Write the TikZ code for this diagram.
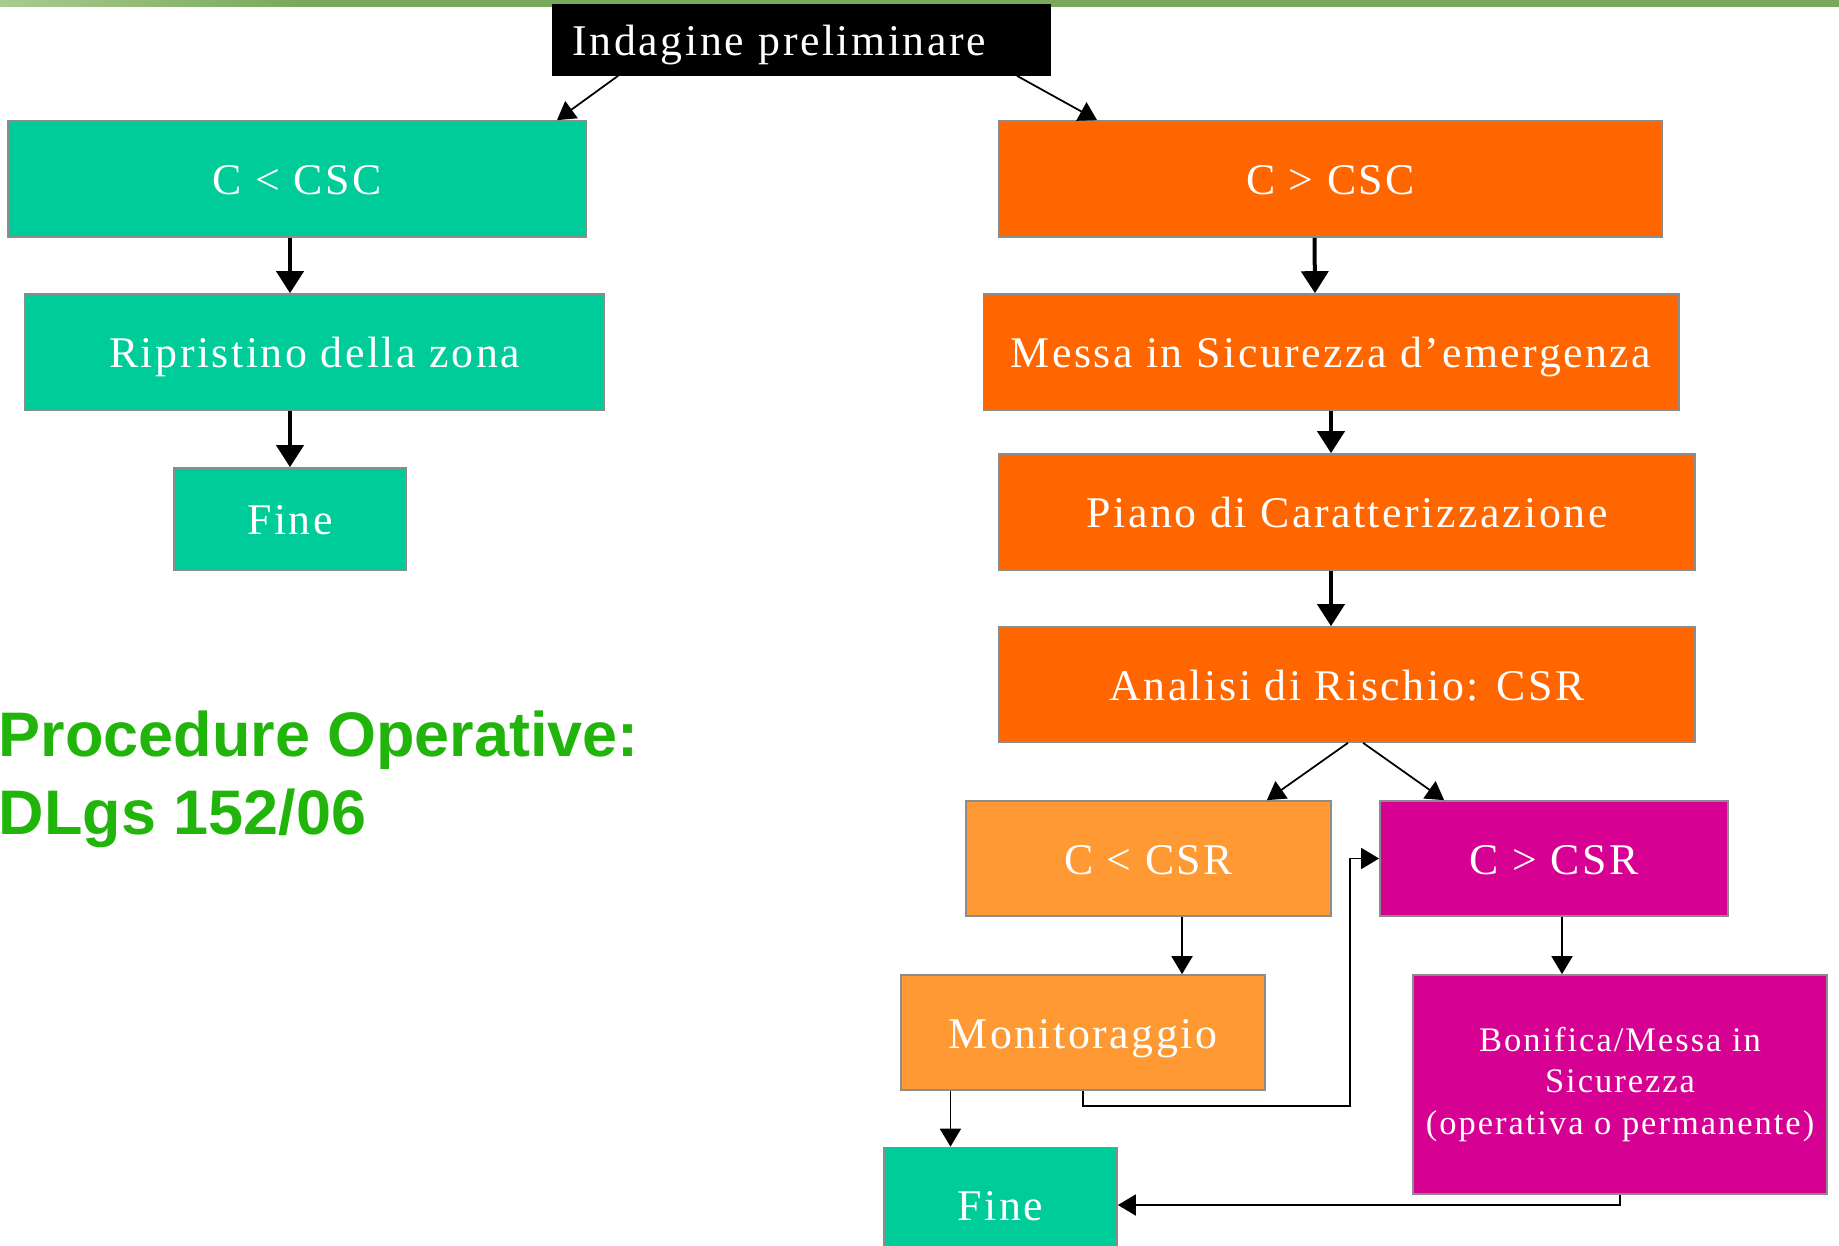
\documentclass[tikz,border=0pt]{standalone}
\usepackage{fontspec}
\setmainfont{Liberation Serif}
\newfontfamily\boxfont[LetterSpace=5.8]{Liberation Serif}
\newfontfamily\titlefont{Liberation Sans}
\usetikzlibrary{arrows.meta}
\definecolor{verdeacqua}{HTML}{00CC99}
\definecolor{arancio}{HTML}{FF6600}
\definecolor{arancioChiaro}{HTML}{FF9933}
\definecolor{fucsia}{HTML}{D60093}
\definecolor{verdetitolo}{HTML}{21B40A}
\definecolor{bordogrigio}{HTML}{8C8C8C}
\definecolor{fascia}{HTML}{79A95B}
\definecolor{fasciachiara}{HTML}{A9CB8F}
\begin{document}
\begin{tikzpicture}[x=0.01cm, y=-0.01cm,
    blocco/.style={draw=bordogrigio, line width=0.45pt, text=white, inner sep=0pt,
      font=\boxfont\fontsize{12.46}{14}\selectfont},
    riga/.style={blocco, text height=0.31cm, text depth=0pt},
    freccia/.style={-{Triangle[length=0.18cm,width=0.21cm]}, line width=0.5pt},
    freccione/.style={-{Triangle[length=0.22cm,width=0.27cm]}, line width=0.04cm}]
    \useasboundingbox (0,0) rectangle (1839,1246);
    \clip (0,0) rectangle (1839,1246);
    % fascia verde in alto
    \fill[fascia] (0,0) rectangle (1839,7);
    \shade[left color=fasciachiara, right color=fascia] (0,0) rectangle (300,7);
    % ramo di sinistra
    \node[riga, fill=black, draw=black, minimum width=4.97cm, minimum height=0.70cm,
      text width=4.57cm, align=left] (indagine) at (801.5,40) {Indagine preliminare};
    \node[riga, fill=verdeacqua, minimum width=5.78cm, minimum height=1.16cm] (cscmin) at (297,179) {C < CSC};
    \node[riga, fill=verdeacqua, minimum width=5.79cm, minimum height=1.16cm] (ripristino) at (314.5,352) {Ripristino della zona};
    \node[riga, fill=verdeacqua, minimum width=2.32cm, minimum height=1.02cm] (fine1) at (290,519) {Fine};
    % ramo di destra
    \node[riga, fill=arancio, minimum width=6.63cm, minimum height=1.16cm] (cscmag) at (1330.5,179) {C > CSC};
    \node[riga, fill=arancio, minimum width=6.95cm, minimum height=1.16cm] (messa) at (1331,352) {Messa in Sicurezza d’emergenza};
    \node[riga, fill=arancio, minimum width=6.96cm, minimum height=1.16cm] (piano) at (1347,512) {Piano di Caratterizzazione};
    \node[riga, fill=arancio, minimum width=6.96cm, minimum height=1.15cm] (analisi) at (1347,684.5) {Analisi di Rischio: CSR};
    \node[riga, fill=arancioChiaro, minimum width=3.65cm, minimum height=1.15cm] (csrmin) at (1148.5,858.5) {C < CSR};
    \node[riga, fill=fucsia, minimum width=3.48cm, minimum height=1.15cm] (csrmag) at (1554,858.5) {C > CSR};
    \node[riga, fill=arancioChiaro, minimum width=3.64cm, minimum height=1.15cm] (monitoraggio) at (1083,1032.5) {Monitoraggio};
    \node[blocco, fill=fucsia, minimum width=4.14cm, minimum height=2.19cm, align=center,
      font=\boxfont\fontsize{9.8}{11.7}\selectfont] (bonifica) at (1620,1084.5) {Bonifica/Messa in\\Sicurezza\\(operativa o permanente)};
    \node[riga, fill=verdeacqua, minimum width=2.33cm, minimum height=1.15cm] (fine2) at (1000.5,1205) {Fine};
    % titolo
    \node[anchor=base west, inner sep=0pt, align=left, text=verdetitolo,
      font=\titlefont\bfseries\fontsize{17.9}{21.9}\selectfont] (titolo) at (-2,834) {Procedure Operative:\\DLgs 152/06};
    % frecce
    \draw[freccia] ([xshift=0.66cm]indagine.south west) -- ([xshift=-0.30cm]cscmin.north east);
    \draw[freccia] ([xshift=-0.34cm]indagine.south east) -- ([xshift=0.99cm]cscmag.north west);
    \draw[freccione] (cscmin.south -| fine1) -- (ripristino.north -| fine1);
    \draw[freccione] (ripristino.south -| fine1) -- (fine1.north);
    \draw[freccione] ([xshift=-0.16cm]cscmag.south) -- ([xshift=-0.16cm]messa.north);
    \draw[freccione] (messa.south) -- (messa.south |- piano.north);
    \draw[freccione] (piano.south -| messa) -- (analisi.north -| messa);
    \draw[freccia] ([xshift=0.01cm]analisi.south) -- ([xshift=-0.65cm]csrmin.north east);
    \draw[freccia] ([xshift=0.16cm]analisi.south) -- ([xshift=0.65cm]csrmag.north west);
    \draw[freccia] ([xshift=0.335cm]csrmin.south) -- ([xshift=0.335cm]csrmin.south |- monitoraggio.north);
    \draw[freccia] ([xshift=0.08cm]csrmag.south) -- ([xshift=0.08cm]csrmag.south |- bonifica.north);
    \draw[freccia] ([xshift=-0.5cm]fine2.north |- monitoraggio.south) -- ([xshift=-0.5cm]fine2.north);
    \draw[freccia] (monitoraggio.south) -- ++(0,15) -| ([xshift=-0.29cm]csrmag.west) -- (csrmag.west);
    \draw[freccia] (bonifica.south) |- (fine2.east);
\end{tikzpicture}
\end{document}
